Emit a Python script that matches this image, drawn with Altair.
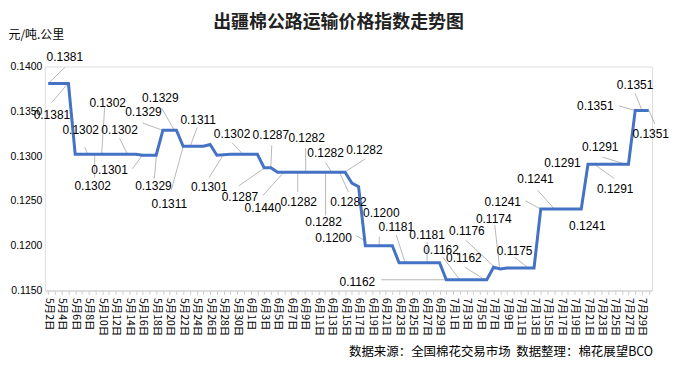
import json
import altair as alt
import pandas as pd

# ---- line data (daily index from 5月2日) ----
line_dates = ["2021-05-02", "2021-05-05", "2021-05-06", "2021-05-15", "2021-05-16", "2021-05-18",
              "2021-05-19", "2021-05-21", "2021-05-22", "2021-05-25", "2021-05-26", "2021-05-27",
              "2021-05-29", "2021-06-02", "2021-06-03", "2021-06-04", "2021-06-05", "2021-06-15",
              "2021-06-16", "2021-06-17", "2021-06-18", "2021-06-22", "2021-06-23", "2021-06-29",
              "2021-06-30", "2021-07-06", "2021-07-07", "2021-07-08", "2021-07-09", "2021-07-13",
              "2021-07-14", "2021-07-20", "2021-07-21", "2021-07-27", "2021-07-28", "2021-07-30"]
line_values = [0.1381, 0.1381, 0.1302, 0.1302, 0.1301, 0.1301,
               0.1329, 0.1329, 0.1311, 0.1311, 0.1313, 0.1301,
               0.1302, 0.1302, 0.1287, 0.1287, 0.1282, 0.1282,
               0.1270, 0.1266, 0.1200, 0.1200, 0.1181, 0.1181,
               0.1162, 0.1162, 0.1176, 0.1174, 0.1175, 0.1175,
               0.1241, 0.1241, 0.1291, 0.1291, 0.1351, 0.1351]

# ---- data labels ----
label_text = ["0.1381", "0.1381", "0.1302", "0.1302", "0.1302", "0.1301", "0.1302", "0.1329",
              "0.1329", "0.1329", "0.1311", "0.1311", "0.1301", "0.1302", "0.1287", "0.1287",
              "0.1440", "0.1282", "0.1282", "0.1282", "0.1282", "0.1282", "0.1282", "0.1200",
              "0.1200", "0.1181", "0.1181", "0.1162", "0.1162", "0.1162", "0.1176", "0.1174",
              "0.1175", "0.1241", "0.1241", "0.1241", "0.1291", "0.1291", "0.1291", "0.1351",
              "0.1351", "0.1351"]
# label centre (day index, value)
label_day = [2.46, 0.55, 4.82, 10.58, 8.81, 9.10, 6.59, 15.59,
             14.12, 16.62, 22.23, 17.95, 23.85, 27.24, 32.99, 28.42,
             31.81, 38.30, 37.12, 41.11, 40.81, 44.50, 46.86, 42.29,
             49.36, 51.58, 56.15, 58.22, 45.82, 61.61, 62.05, 66.03,
             69.13, 67.36, 72.22, 79.90, 76.21, 84.03, 81.81, 81.08,
             86.98, 89.30]
label_val = [0.1411, 0.1346, 0.1329, 0.1329, 0.1359, 0.1285, 0.1267, 0.1267,
             0.1349, 0.1365, 0.1340, 0.1247, 0.1265, 0.1325, 0.1323, 0.1254,
             0.1242, 0.1320, 0.1249, 0.1303, 0.1226, 0.1249, 0.1307, 0.1209,
             0.1237, 0.1221, 0.1212, 0.1195, 0.1160, 0.1186, 0.1216, 0.1230,
             0.1194, 0.1249, 0.1274, 0.1222, 0.1292, 0.1263, 0.1310, 0.1356,
             0.1379, 0.1325]
# leader lines: point end and label end (None = no leader)
lead_pt_day = [0, 2.9, 5.86, 11.76, 7.92, 13.97, 6.89, 16.03,
               16.92, 18.69, 21.05, 20.01, 25.91, 28.86, 32.99, 32.11,
               34.92, 38.16, 36.98, 42.0, 41.11, 43.17, 43.91, 46.86,
               49.07, 52.9, 56.15, 61.0, 61.16, 64.7, 66.18, 66.92,
               71.2, 72.97, 75.03, None, None, 80.93, 85.54, 86.98,
               88.01, 89.04]
lead_pt_val = [0.1381, 0.1381, 0.1302, 0.1302, 0.1302, 0.1301, 0.1302, 0.1301,
               0.1329, 0.1329, 0.1311, 0.1311, 0.1301, 0.1302, 0.1287, 0.1287,
               0.1282, 0.1282, 0.1282, 0.1282, 0.1282, 0.1282, 0.1282, 0.1206,
               0.1200, 0.1181, 0.1181, 0.1162, 0.1162, 0.1162, 0.1176, 0.1174,
               0.1175, 0.1241, 0.1241, None, None, 0.1291, 0.1291, 0.1351,
               0.1351, 0.1351]
lead_lb_day = [2.46, 0.55, 5.41, 10.58, 8.36, 12.49, 6.89, 15.74,
               13.97, 16.77, 22.08, 18.24, 23.85, 27.24, 33.13, 28.27,
               31.81, 38.16, 36.98, 41.11, 41.11, 44.5, 47.01, 45.68,
               49.07, 51.58, 56.15, 58.51, 49.36, 61.76, 61.9, 66.18,
               69.13, 70.75, 72.52, None, None, 83.88, 82.1, 84.62,
               86.98, 89.9]
lead_lb_val = [0.1399, 0.1360, 0.1310, 0.1320, 0.1354, 0.1286, 0.1276, 0.1275,
               0.1337, 0.1354, 0.1332, 0.1262, 0.1276, 0.1315, 0.1312, 0.1267,
               0.1256, 0.1309, 0.1260, 0.1293, 0.1234, 0.1260, 0.1297, 0.1211,
               0.1210, 0.1212, 0.1204, 0.1187, 0.1162, 0.1176, 0.1206, 0.1223,
               0.1187, 0.1250, 0.1262, None, None, 0.1275, 0.1299, 0.1356,
               0.1370, 0.1336]

start_date = "2021-05-02"
n_days = 90
y_ticks = [0.115, 0.120, 0.125, 0.130, 0.135, 0.140]

# ---- build tables ----
start = pd.Timestamp(start_date)
line_df = pd.DataFrame({"date": pd.to_datetime(line_dates), "value": line_values})
line_df["day"] = (line_df["date"] - start).dt.days

all_days = [start + pd.Timedelta(days=i) for i in range(n_days)]
tick_labels = [f"{d.month}月{d.day}日" for d in all_days]

lab_df = pd.DataFrame({"text": label_text, "day": label_day, "value": label_val})
lead_df = pd.DataFrame({"d1": lead_pt_day, "v1": lead_pt_val,
                        "d2": lead_lb_day, "v2": lead_lb_val}).dropna()

FONT = "Liberation Sans"
CJK = "Noto Sans CJK SC"

label_expr = f"datum.value % 2 == 0 ? {json.dumps(tick_labels, ensure_ascii=False)}[datum.value] : ''"

x_scale = alt.Scale(domain=[-0.5, n_days - 0.5], nice=False, zero=False)
y_scale = alt.Scale(domain=[0.115, 0.140], nice=False, zero=False)

x_axis = alt.Axis(values=list(range(n_days)), tickCount=n_days + 10, labelExpr=label_expr,
                  labelAngle=90, labelAlign="left", labelBaseline="middle", labelFont=CJK,
                  labelFontSize=10.5, labelColor="#000000", labelOverlap=False, labelPadding=3,
                  labelBound=False, labelFlush=False,
                  tickColor="#d0d0d0", tickSize=4, domainColor="#d0d0d0", grid=False,
                  title="数据来源：全国棉花交易市场\u00a0\u00a0数据整理：棉花展望BCO",
                  titleFont=CJK, titleFontSize=12.5, titleFontWeight="normal", titleColor="#000000",
                  titleAlign="left", titleAnchor="start", titleX=305, titleY=61,
                  titleBaseline="middle")
y_axis = alt.Axis(values=y_ticks, format=".4f", domain=False, ticks=False, grid=False,
                  labelFont=FONT, labelFontSize=10.5, labelColor="#000000", labelPadding=3,
                  title="元/吨.公里", titleAngle=0, titleFont=CJK, titleFontSize=12,
                  titleFontWeight="normal", titleColor="#000000",
                  titleAlign="left", titleAnchor="start", titleX=-37, titleY=-32,
                  titleBaseline="middle")

line = alt.Chart(line_df).mark_line(color="#4472C4", strokeWidth=3).encode(
    x=alt.X("day:Q", scale=x_scale, axis=x_axis),
    y=alt.Y("value:Q", scale=y_scale, axis=y_axis),
)

leaders = alt.Chart(lead_df).mark_rule(color="#a6a6a6", strokeWidth=0.8).encode(
    x=alt.X("d1:Q", scale=x_scale), y=alt.Y("v1:Q", scale=y_scale),
    x2="d2:Q", y2="v2:Q",
)

labels = alt.Chart(lab_df).mark_text(font=FONT, fontSize=12, color="#000000",
                                     align="center", baseline="middle").encode(
    x=alt.X("day:Q", scale=x_scale), y=alt.Y("value:Q", scale=y_scale), text="text:N",
)

chart = alt.layer(leaders, line, labels).properties(
    width=610, height=225,
    padding={"left": 37, "top": 58, "right": 20, "bottom": 68},
    autosize=alt.AutoSizeParams(type="none"),
    title=alt.TitleParams("出疆棉公路运输价格指数走势图", font=CJK, fontSize=18, fontWeight="bold",
                          color="#222222", anchor="middle", dx=-10, dy=3, offset=0),
).configure_view(stroke=None).configure(background="white")

chart.save("out.html", embed_options={"renderer": "svg", "actions": False})
